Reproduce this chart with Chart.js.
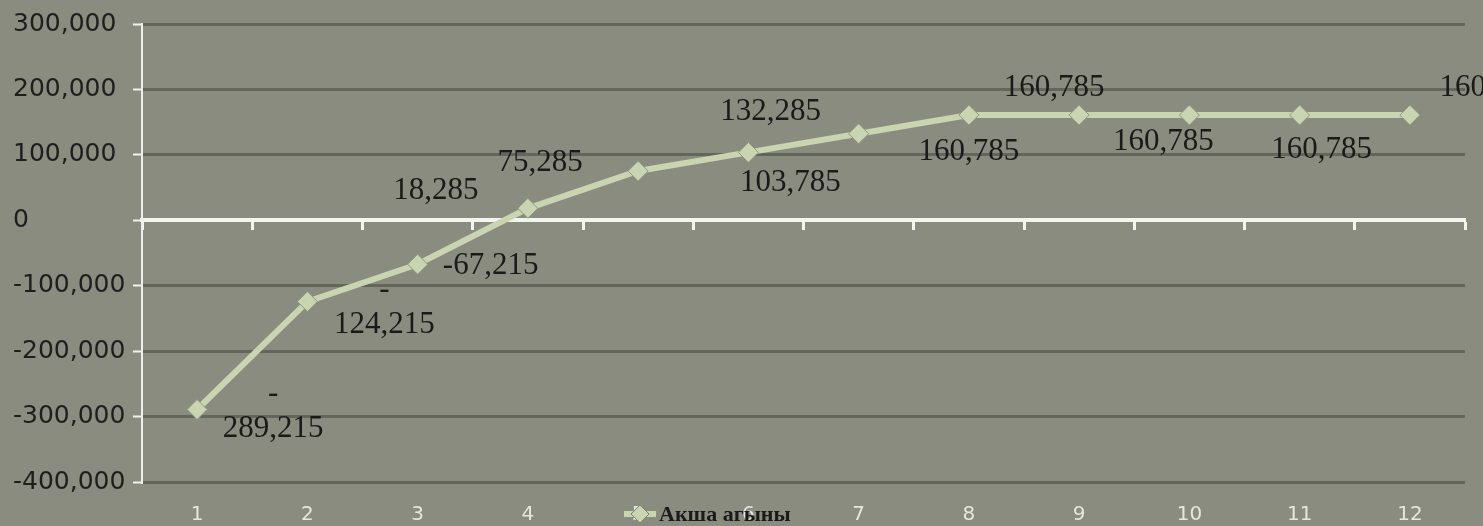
<!DOCTYPE html>
<html>
<head>
<meta charset="utf-8">
<script src="https://cdn.jsdelivr.net/npm/chart.js@4"></script>
<style>
  html, body { margin: 0; padding: 0; background: #8a8c80; }
  #wrap { width: 1483px; height: 526px; }
</style>
</head>
<body>
<div id="wrap"><canvas id="cashChart"></canvas></div>
<script>
// chart data
const periods = ["1", "2", "3", "4", "5", "6", "7", "8", "9", "10", "11", "12"];
const cashFlow = [-289215, -124215, -67215, 18285, 75285, 103785, 132285, 160785, 160785, 160785, 160785, 160785];
const seriesName = "Акша агыны";
const yTicks = [-400000, -300000, -200000, -100000, 0, 100000, 200000, 300000];

// where each value label sits relative to its point (styling only)
const labelOffsets = [
  { dx: 76, dy: 1, wrap: true },
  { dx: 77, dy: 5, wrap: true },
  { dx: 73, dy: 2 },
  { dx: -92, dy: -17 },
  { dx: -98, dy: -8 },
  { dx: 42, dy: 30 },
  { dx: -88, dy: -22 },
  { dx: 0, dy: 37 },
  { dx: -25, dy: -27 },
  { dx: -26, dy: 27 },
  { dx: 22, dy: 35 },
  { dx: 80, dy: -27 }
];

const lineGreen = "#c9d4b0";
const fmt = v => v.toLocaleString("en-US");

// value labels next to the points
const valueLabels = {
  id: "valueLabels",
  afterDatasetsDraw(chart) {
    const c = chart.ctx;
    const meta = chart.getDatasetMeta(0);
    c.save();
    c.font = "31px 'Liberation Serif', serif";
    c.fillStyle = "#1a1a1a";
    c.textAlign = "center";
    c.textBaseline = "middle";
    meta.data.forEach((pt, i) => {
      const o = labelOffsets[i];
      const v = cashFlow[i];
      const x = pt.x + o.dx, y = pt.y + o.dy;
      if (o.wrap && v < 0) {
        c.fillText("-", x, y - 17);
        c.fillText(fmt(-v), x, y + 18);
      } else {
        c.fillText(fmt(v), x, y);
      }
    });
    c.restore();
  }
};

// legend drawn over the bottom edge like the original
const bottomLegend = {
  id: "bottomLegend",
  afterDraw(chart) {
    const c = chart.ctx;
    const y = 514;
    c.save();
    c.strokeStyle = lineGreen;
    c.lineWidth = 6;
    c.beginPath();
    c.moveTo(624, y);
    c.lineTo(656, y);
    c.stroke();
    c.fillStyle = lineGreen;
    c.strokeStyle = "#7d8470";
    c.lineWidth = 1;
    c.beginPath();
    c.moveTo(640, y - 9);
    c.lineTo(649, y);
    c.lineTo(640, y + 9);
    c.lineTo(631, y);
    c.closePath();
    c.fill();
    c.stroke();
    c.font = "bold 22px 'Liberation Serif', serif";
    c.fillStyle = "#1a1a1a";
    c.textBaseline = "middle";
    c.fillText(chart.data.datasets[0].label, 659, y + 1);
    c.restore();
  }
};

const ctx = document.getElementById("cashChart").getContext("2d");

new Chart(ctx, {
  type: "line",
  data: {
    labels: periods,
    datasets: [{
      label: seriesName,
      data: cashFlow,
      borderColor: lineGreen,
      borderWidth: 6,
      pointStyle: "rectRot",
      pointRadius: 10,
      pointHoverRadius: 10,
      pointBackgroundColor: lineGreen,
      pointBorderColor: "#8f9a80",
      pointBorderWidth: 1,
      tension: 0,
      xAxisID: "x",
      yAxisID: "y"
    }]
  },
  options: {
    responsive: true,
    maintainAspectRatio: false,
    animation: false,
    layout: { padding: { left: 13, right: 18, top: 24, bottom: 0 } },
    plugins: {
      legend: { display: false },
      tooltip: { enabled: false }
    },
    scales: {
      x: {
        type: "category",
        position: "bottom",
        offset: true,
        grid: { display: false },
        border: { display: false },
        ticks: {
          color: "#e6e6de",
          font: { family: "'DejaVu Sans', sans-serif", size: 20 },
          padding: 13
        },
        afterFit(scale) { scale.height = 44; }
      },
      xZero: {
        type: "category",
        position: { y: 0 },
        offset: true,
        grid: {
          offset: true,
          drawOnChartArea: false,
          drawTicks: true,
          tickLength: 8,
          tickColor: "#f4f4f0",
          tickWidth: 3
        },
        border: { display: true, color: "#f4f4f0", width: 4 },
        ticks: { display: false }
      },
      y: {
        min: -400000,
        max: 300000,
        afterBuildTicks(scale) { scale.ticks = yTicks.map(v => ({ value: v })); },
        grid: {
          color: "#62665b",
          lineWidth: 3,
          tickColor: "#f0f0ea",
          tickWidth: 2,
          tickLength: 9
        },
        border: { display: true, color: "#f0f0ea", width: 2 },
        ticks: {
          color: "#1e1e1e",
          crossAlign: "far",
          font: { family: "'DejaVu Sans', sans-serif", size: 25 },
          callback: v => fmt(v)
        },
        afterFit(scale) { scale.width = 129; }
      }
    }
  },
  plugins: [valueLabels, bottomLegend]
});
</script>
</body>
</html>
